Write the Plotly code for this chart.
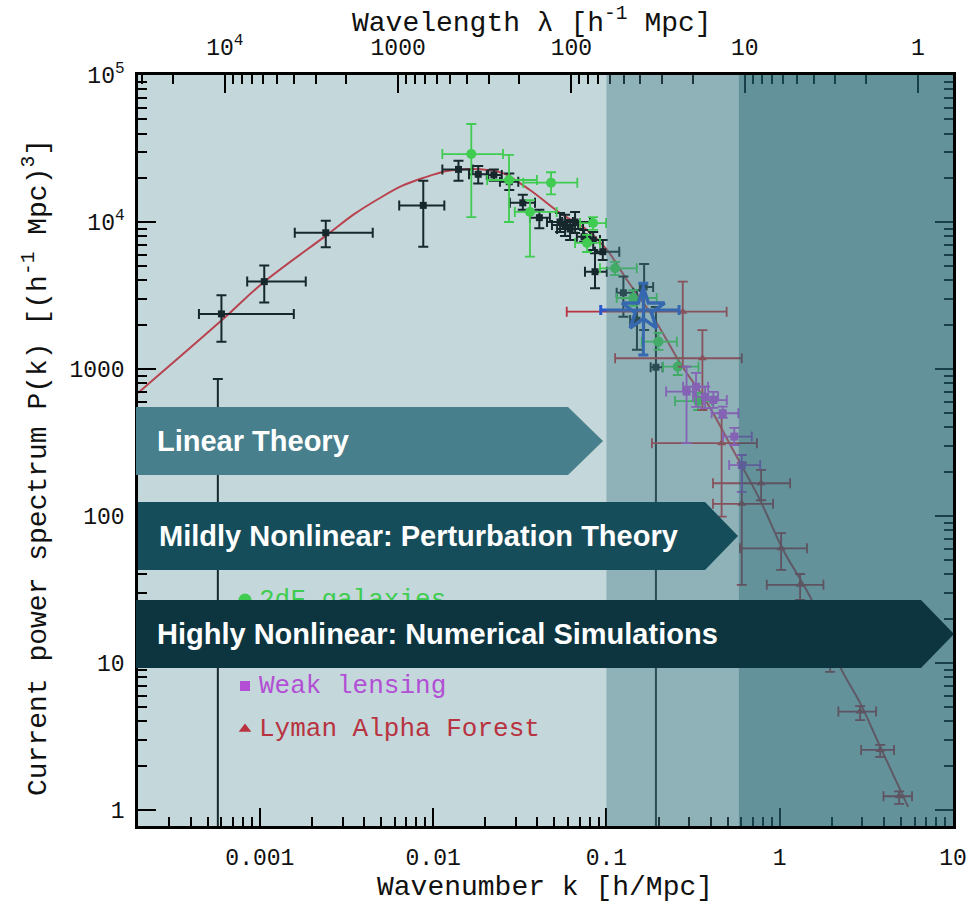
import math
import plotly.graph_objects as go

# ---------------- data ----------------
k_theory = [1.98e-4, 6.04e-4, 1.04e-3, 2.44e-3, 3.50e-3, 4.93e-3, 6.60e-3, 8.73e-3, 0.0120,
            0.0163, 0.0200, 0.0253, 0.0362, 0.0540, 0.0773, 0.1008, 0.1315, 0.186, 0.266,
            0.381, 0.538, 0.771, 1.047, 1.50, 2.23, 2.91, 3.80, 5.51]
P_theory = [687, 2150, 3850, 8170, 11300, 14560, 17600, 19900, 22200,
            22900, 22700, 21500, 16500, 11500, 8830, 6450, 4030, 2260, 1100,
            588, 281, 128, 58.7, 28.1, 9.4, 5.35, 2.69, 1.05]

# CMB + SDSS galaxies (black)
k_blk = [5.72e-4, 6.0e-4, 1.06e-3, 2.40e-3, 8.77e-3, 0.0140, 0.0182, 0.0224, 0.0275, 0.0329,
         0.0410, 0.0577, 0.0617, 0.0659, 0.0540, 0.0743, 0.0839, 0.0953, 0.0859, 0.1253,
         0.150, 0.165, 0.193]
P_blk = [329, 2370, 3930, 8450, 12970, 22800, 21100, 20900, 18800, 13500,
         10700, 9550, 8960, 10000, 10000, 7940, 7550, 6280, 4590, 3300,
         2150, 3610, 1028]
k_blk_lo = [5.72e-4, 4.45e-4, 8.45e-4, 1.59e-3, 6.37e-3, 0.0113, 0.0161, 0.0204, 0.0243, 0.0277,
            0.0362, 0.0485, 0.0519, 0.0555, 0.0454, 0.0675, 0.0752, 0.0859, 0.0752, 0.1146,
            0.137, 0.156, 0.180]
k_blk_hi = [5.72e-4, 1.57e-3, 1.84e-3, 4.48e-3, 0.0116, 0.0169, 0.0208, 0.0249, 0.0310, 0.0387,
            0.0472, 0.0686, 0.0733, 0.0804, 0.0641, 0.0804, 0.0918, 0.1186, 0.1005, 0.1429,
            0.163, 0.186, 0.211]
P_blk_lo = [0.1, 1530, 2830, 6730, 6790, 19100, 18300, 19100, 16500, 12100,
            9060, 8040, 7550, 8410, 8550, 7350, 6460, 5510, 3540, 2270,
            1350, 1840, 0.1]
P_blk_hi = [855, 3180, 5050, 10200, 19100, 26100, 24000, 22800, 21400, 15300,
            12100, 11200, 10300, 11700, 11500, 8830, 8550, 7550, 6120, 4250,
            3440, 5180, 2640]

# 2dF galaxies (green)
k_2df = [0.0166, 0.0274, 0.0479, 0.0362, 0.0837, 0.0773, 0.1122, 0.1426, 0.1995, 0.258, 0.338]
P_2df = [29000, 19300, 18500, 11700, 9840, 7200, 4840, 3040, 1535, 1037, 605]
k_2df_lo = [0.0113, 0.0205, 0.0331, 0.0296, 0.0705, 0.0659, 0.0918, 0.1146, 0.160, 0.212, 0.249]
k_2df_hi = [0.0253, 0.0397, 0.0679, 0.0516, 0.0995, 0.0918, 0.1496, 0.195, 0.255, 0.340, 0.407]
P_2df_lo = [10800, 10000, 15400, 5810, 8830, 6250, 4350, 2690, 1350, 910, 526]
P_2df_hi = [46400, 28600, 21800, 14100, 10800, 8170, 5350, 3440, 1760, 1190, 687]

# Cluster abundance (blue star)
k_cl = [0.1633]
P_cl = [2520]
k_cl_lo = [0.0927]
k_cl_hi = [0.2625]
P_cl_lo = [1245]
P_cl_hi = [3830]

# Weak lensing (magenta)
k_wl = [0.290, 0.329, 0.371, 0.414, 0.469, 0.547, 0.604]
P_wl = [702, 757, 649, 615, 500, 347, 222]
k_wl_lo = [0.221, 0.277, 0.316, 0.361, 0.405, 0.471, 0.511]
k_wl_hi = [0.324, 0.386, 0.441, 0.495, 0.577, 0.690, 0.771]
P_wl_lo = [313, 553, 541, 543, 465, 304, 146]
P_wl_hi = [1037, 940, 759, 698, 555, 397, 260]

# Lyman Alpha Forest (red)
k_lya = [0.2757, 0.358, 0.462, 0.781, 0.604, 1.019, 1.311, 1.954, 2.912, 3.80, 4.89]
P_lya = [2455, 1183, 313, 167, 121, 60.3, 34.0, 15.5, 4.67, 2.56, 1.24]
k_lya_lo = [0.0590, 0.1122, 0.183, 0.412, 0.412, 0.590, 0.842, 1.50, 2.18, 2.95, 3.97]
k_lya_hi = [0.494, 0.604, 0.738, 1.148, 0.916, 1.436, 1.788, 2.55, 3.60, 4.57, 5.80]
P_lya_lo = [1037, 526, 98.9, 128, 34, 43, 26.9, 8.7, 4.09, 2.30, 1.10]
P_lya_hi = [3930, 1840, 502, 206, 230, 76.5, 40.3, 19.6, 5.09, 2.77, 1.34]

# axis ticks
k_major = [0.001, 0.01, 0.1, 1, 10]
k_major_text = ["0.001", "0.01", "0.1", "1", "10"]
lam_major = [1e4, 1e3, 100, 10, 1]
lam_major_text = ["10<sup>4</sup>", "1000", "100", "10", "1"]
P_major = [1, 10, 100, 1000, 1e4, 1e5]
P_major_text = ["1", "10", "100", "1000", "10<sup>4</sup>", "10<sup>5</sup>"]

legend_names = ["CMB", "SDSS galaxies", "2dF galaxies", "Cluster abundance",
                "Weak lensing", "Lyman Alpha Forest"]

# region boundaries (k)
k_linear_end = 0.1
k_mild_end = 0.58

banner_texts = ["Linear Theory", "Mildly Nonlinear: Perturbation Theory",
                "Highly Nonlinear: Numerical Simulations"]

# ---------------- layout geometry ----------------
W, H = 973, 904
ML, MR, MT, MB = 138, 20, 75, 78
PW, PH = W - ML - MR, H - MT - MB
X_RANGE = [math.log10(1.98e-4), 1.0]
Y_RANGE = [-0.109, 5.0]
TWO_PI = 2 * math.pi


def pxx(px):
    return (px - ML) / PW


def pxy(py):
    return (H - MB - py) / PH


def kpaper(k):
    return (math.log10(k) - X_RANGE[0]) / (X_RANGE[1] - X_RANGE[0])


def px_to_k(px):
    return 10 ** (X_RANGE[0] + pxx(px) * (X_RANGE[1] - X_RANGE[0]))


def py_to_P(py):
    return 10 ** (Y_RANGE[0] + pxy(py) * (Y_RANGE[1] - Y_RANGE[0]))


def errs(v, lo, hi, color, thick, width):
    return dict(type="data", symmetric=False,
                array=[h - x for x, h in zip(v, hi)],
                arrayminus=[x - l for x, l in zip(v, lo)],
                color=color, thickness=thick, width=width)


MONO = "Liberation Mono"
fig = go.Figure()

fig.add_trace(go.Scatter(x=k_theory, y=P_theory, mode="lines",
                         line=dict(color="#b8434f", width=2, shape="spline", smoothing=1.0),
                         hoverinfo="skip", showlegend=False))

C_BLK = "#17282d"
fig.add_trace(go.Scatter(x=k_blk, y=P_blk, mode="markers",
                         marker=dict(symbol="square", size=7, color=C_BLK),
                         error_x=errs(k_blk, k_blk_lo, k_blk_hi, C_BLK, 2, 5),
                         error_y=errs(P_blk, P_blk_lo, P_blk_hi, C_BLK, 2, 5),
                         showlegend=False))

C_GRN = "#3fcc50"
fig.add_trace(go.Scatter(x=k_2df, y=P_2df, mode="markers",
                         marker=dict(symbol="circle", size=10, color=C_GRN),
                         error_x=errs(k_2df, k_2df_lo, k_2df_hi, C_GRN, 1.8, 5),
                         error_y=errs(P_2df, P_2df_lo, P_2df_hi, C_GRN, 1.8, 5),
                         showlegend=False))

C_RED = "#b8333f"
fig.add_trace(go.Scatter(x=k_lya, y=P_lya, mode="markers",
                         marker=dict(symbol="triangle-up", size=8, color=C_RED),
                         error_x=errs(k_lya, k_lya_lo, k_lya_hi, C_RED, 1.8, 5),
                         error_y=errs(P_lya, P_lya_lo, P_lya_hi, C_RED, 1.8, 5),
                         showlegend=False))

C_MAG = "#b24fd4"
fig.add_trace(go.Scatter(x=k_wl, y=P_wl, mode="markers",
                         marker=dict(symbol="square", size=8, color=C_MAG),
                         error_x=errs(k_wl, k_wl_lo, k_wl_hi, C_MAG, 1.8, 5),
                         error_y=errs(P_wl, P_wl_lo, P_wl_hi, C_MAG, 1.8, 5),
                         showlegend=False))

C_BLU = "#2a58cc"
fig.add_trace(go.Scatter(x=k_cl, y=P_cl, mode="markers",
                         marker=dict(symbol="star-open", size=32, color=C_BLU,
                                     line=dict(width=3.5, color=C_BLU)),
                         error_x=errs(k_cl, k_cl_lo, k_cl_hi, C_BLU, 3, 5),
                         error_y=errs(P_cl, P_cl_lo, P_cl_hi, C_BLU, 3, 5),
                         showlegend=False))

# dummy trace so the top (wavelength) axis is drawn
fig.add_trace(go.Scatter(x=[k_theory[0], k_theory[-1]], y=[P_theory[0], P_theory[-1]],
                         xaxis="x2", mode="markers", marker=dict(opacity=0),
                         hoverinfo="skip", showlegend=False))

# in-plot legend as text traces (so banners can cover some of it)
leg_colors = [C_BLK, C_BLK, C_GRN, C_BLU, C_MAG, C_RED]
leg_symbols = ["square", "square", "circle", "star", "square", "triangle-up"]
leg_sizes = [10, 10, 13, 13, 10, 11]
leg_py = [514, 557, 600, 643, 686, 729]
for name, col, sym, sz, py in zip(legend_names, leg_colors, leg_symbols, leg_sizes, leg_py):
    fig.add_trace(go.Scatter(x=[px_to_k(245)], y=[py_to_P(py)], mode="markers",
                             marker=dict(symbol=sym, size=sz, color=col),
                             hoverinfo="skip", showlegend=False))
    fig.add_trace(go.Scatter(x=[px_to_k(259)], y=[py_to_P(py)], mode="text",
                             text=[name], textposition="middle right",
                             textfont=dict(family=MONO, size=26, color=col),
                             hoverinfo="skip", showlegend=False))

# ---------------- shapes ----------------
shapes = [
    dict(type="rect", xref="paper", yref="paper", x0=kpaper(k_linear_end), x1=kpaper(k_mild_end),
         y0=0, y1=1, fillcolor="rgba(70,127,136,0.42)", line=dict(width=0), layer="above"),
    dict(type="rect", xref="paper", yref="paper", x0=kpaper(k_mild_end), x1=1,
         y0=0, y1=1, fillcolor="rgba(38,104,116,0.62)", line=dict(width=0), layer="above"),
]

banner_geom = [  # left, top, bottom, body-right, tip (pixels)
    (136, 407, 475, 568, 603),
    (138, 502, 570, 705, 738),
    (136, 600, 668, 921, 954),
]
banner_colors = ["#487f8c", "#164d5b", "#0c3540"]
banner_text_x = [155, 157, 155]
annotations = []
for (l, t, b, br, tip), col, txt, tx in zip(banner_geom, banner_colors, banner_texts, banner_text_x):
    mid = (t + b) / 2
    path = (f"M {pxx(l)},{pxy(t)} L {pxx(br)},{pxy(t)} L {pxx(tip)},{pxy(mid)} "
            f"L {pxx(br)},{pxy(b)} L {pxx(l)},{pxy(b)} Z")
    shapes.append(dict(type="path", xref="paper", yref="paper", path=path,
                       fillcolor=col, line=dict(width=0), layer="above"))
    annotations.append(dict(xref="paper", yref="paper", x=pxx(tx), y=pxy(mid),
                            xanchor="left", yanchor="middle", showarrow=False,
                            text=f"<b>{txt}</b>",
                            font=dict(family="Liberation Sans", size=29, color="white")))

# axis titles
annotations += [
    dict(xref="paper", yref="paper", x=pxx(545), y=pxy(887), showarrow=False,
         xanchor="center", yanchor="middle", text="Wavenumber k [h/Mpc]",
         font=dict(family=MONO, size=28, color="#111")),
    dict(xref="paper", yref="paper", x=pxx(532), y=pxy(21), showarrow=False,
         xanchor="center", yanchor="middle", text="Wavelength λ [h<sup>-1</sup> Mpc]",
         font=dict(family=MONO, size=28, color="#111")),
    dict(xref="paper", yref="paper", x=pxx(36), y=pxy(468), showarrow=False,
         xanchor="center", yanchor="middle", textangle=-90,
         text="Current power spectrum P(k) [(h<sup>-1</sup> Mpc)<sup>3</sup>]",
         font=dict(family=MONO, size=28, color="#111")),
]

k_minor = [m * 10 ** n for n in range(-4, 1) for m in range(2, 10)
           if X_RANGE[0] <= math.log10(m * 10 ** n) <= X_RANGE[1]]
lam_minor = [TWO_PI / (m * 10 ** n) for n in range(0, 5) for m in range(2, 10)
             if X_RANGE[0] <= math.log10(TWO_PI / (m * 10 ** n)) <= X_RANGE[1]]
P_minor = [m * 10 ** n for n in range(0, 5) for m in range(2, 10)]

TICKFONT = dict(family=MONO, size=23, color="#111")
axis_common = dict(type="log", showgrid=False, zeroline=False, showline=True,
                   linecolor="black", linewidth=2.5, ticks="inside", ticklen=18,
                   tickwidth=1.5, tickcolor="black", tickfont=TICKFONT, automargin=False)

fig.update_layout(
    width=W, height=H, margin=dict(l=ML, r=MR, t=MT, b=MB, pad=0),
    paper_bgcolor="white", plot_bgcolor="#c4d7db",
    showlegend=False, hovermode=False,
    xaxis=dict(**axis_common, range=X_RANGE, tickmode="array", tickvals=k_major,
               ticktext=k_major_text, ticklabelstandoff=9,
               minor=dict(tickmode="array", tickvals=k_minor, ticks="inside",
                          ticklen=9, tickwidth=1.5, tickcolor="black")),
    xaxis2=dict(**axis_common, range=X_RANGE, overlaying="x", side="top", anchor="y",
                tickmode="array", tickvals=[TWO_PI / v for v in lam_major],
                ticktext=lam_major_text, ticklabelstandoff=8,
                minor=dict(tickmode="array", tickvals=lam_minor, ticks="inside",
                           ticklen=9, tickwidth=1.5, tickcolor="black")),
    yaxis=dict(**axis_common, range=Y_RANGE, tickmode="array", tickvals=P_major,
               ticktext=P_major_text, mirror="ticks", ticklabelstandoff=6,
               minor=dict(tickmode="array", tickvals=P_minor, ticks="inside",
                          ticklen=9, tickwidth=1.5, tickcolor="black")),
    shapes=shapes,
    annotations=annotations,
)

fig.write_html("out.html")
